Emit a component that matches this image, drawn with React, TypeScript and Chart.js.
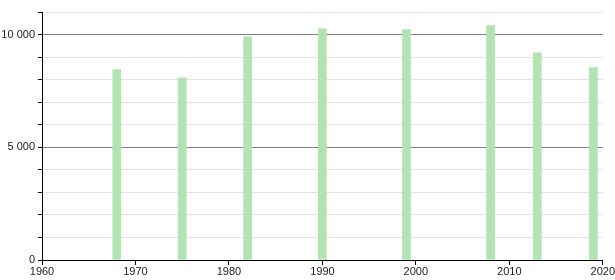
import React, { useEffect, useRef } from "react";
import { Chart, registerables } from "chart.js";

Chart.register(...registerables);

const years = [1968, 1975, 1982, 1990, 1999, 2008, 2013, 2019];
const population = [8450, 8080, 9900, 10250, 10220, 10400, 9190, 8530];
const xTicks = [1960, 1970, 1980, 1990, 2000, 2010, 2020];
const yLabelled = [0, 5000, 10000];

export default function App() {
  const ref = useRef<HTMLCanvasElement | null>(null);

  useEffect(() => {
    if (!ref.current) return;
    const font = { family: "'Liberation Sans', Arial, sans-serif", size: 11 };
    const chart = new Chart(ref.current, {
      type: "bar",
      data: {
        datasets: [
          {
            data: years.map((y, i) => ({ x: y, y: population[i] })),
            backgroundColor: "rgb(178,228,178)",
            borderWidth: 0,
            barThickness: 8,
          },
        ],
      },
      options: {
        animation: false,
        responsive: false,
        maintainAspectRatio: false,
        layout: { padding: { top: 12, right: 10, left: 0, bottom: 0 } },
        plugins: { legend: { display: false }, tooltip: { enabled: false } },
        scales: {
          x: {
            type: "linear",
            min: 1960,
            max: 2020,
            offset: false,
            afterBuildTicks: (s: any) => {
              s.ticks = xTicks.map((v) => ({ value: v }));
            },
            afterFit: (s: any) => {
              s.height = 20;
            },
            grid: {
              offset: false,
              drawOnChartArea: false,
              drawTicks: true,
              tickLength: 5,
              tickColor: "#000",
            },
            border: { color: "#000", width: 1 },
            ticks: {
              color: "#222",
              font,
              padding: 0,
              maxRotation: 0,
              autoSkip: false,
              callback: (v: any) => String(v),
            },
          },
          y: {
            min: 0,
            max: 11000,
            afterBuildTicks: (s: any) => {
              const t = [];
              for (let v = 0; v <= 11000; v += 1000) t.push({ value: v });
              s.ticks = t;
            },
            afterFit: (s: any) => {
              s.width = 42;
            },
            grid: {
              color: (c: any) =>
                c.tick && c.tick.value % 5000 === 0 ? "#808080" : "#e2e2e2",
              tickColor: "#000",
              tickLength: 4,
              drawTicks: true,
            },
            border: { color: "#000", width: 1 },
            ticks: {
              color: "#222",
              font,
              padding: 3,
              autoSkip: false,
              callback: (v: any) =>
                yLabelled.includes(Number(v))
                  ? String(v).replace(/\B(?=(\d{3})+(?!\d))/g, " ")
                  : "",
            },
          },
        },
      },
    });
    return () => chart.destroy();
  }, []);

  return (
    <div style={{ position: "fixed", left: 0, top: 0, width: 615, height: 280, background: "#fff" }}>
      <canvas ref={ref} width={615} height={280} />
    </div>
  );
}
